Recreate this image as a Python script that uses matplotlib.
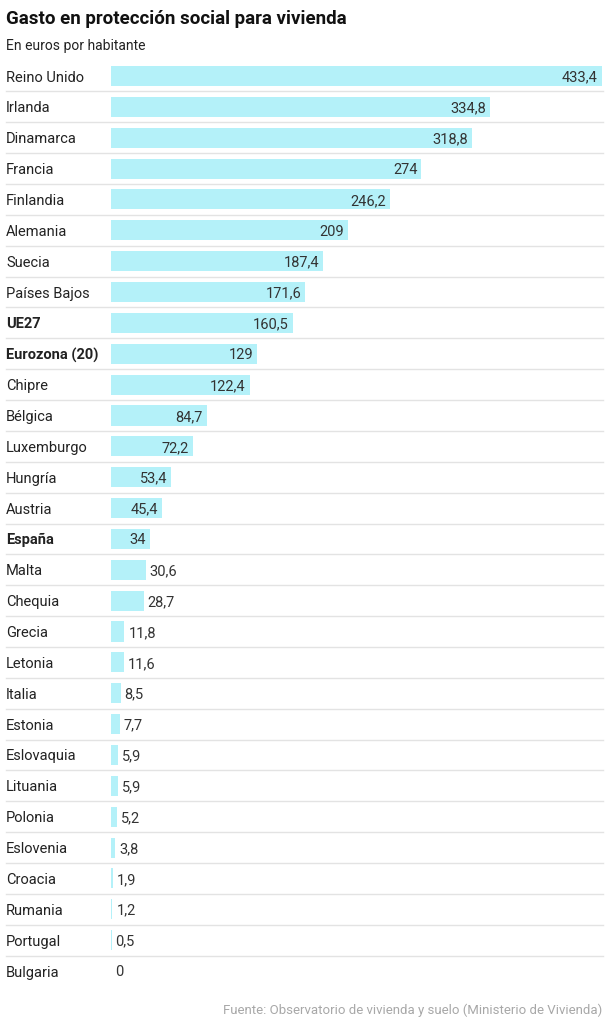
import matplotlib.pyplot as plt
from matplotlib.transforms import blended_transform_factory

# Datos
paises = ["Reino Unido", "Irlanda", "Dinamarca", "Francia", "Finlandia", "Alemania",
          "Suecia", "Países Bajos", "UE27", "Eurozona (20)", "Chipre", "Bélgica",
          "Luxemburgo", "Hungría", "Austria", "España", "Malta", "Chequia", "Grecia",
          "Letonia", "Italia", "Estonia", "Eslovaquia", "Lituania", "Polonia",
          "Eslovenia", "Croacia", "Rumania", "Portugal", "Bulgaria"]
valores = [433.4, 334.8, 318.8, 274, 246.2, 209, 187.4, 171.6, 160.5, 129, 122.4, 84.7,
           72.2, 53.4, 45.4, 34, 30.6, 28.7, 11.8, 11.6, 8.5, 7.7, 5.9, 5.9, 5.2,
           3.8, 1.9, 1.2, 0.5, 0]
destacados = ["UE27", "Eurozona (20)", "España"]

plt.rcParams['font.family'] = ['Roboto', 'DejaVu Sans']

W, H = 608, 1024
fig = plt.figure(figsize=(W / 100, H / 100), dpi=100)

n = len(paises)
paso = (970 - 75) / (n - 1)
top = 76 - paso / 2
bottom = 971 + paso / 2
x0, x1 = 111, 602
ax = fig.add_axes([x0 / W, 1 - bottom / H, (x1 - x0) / W, (bottom - top) / H])
ax.set_xlim(0, max(valores))
ax.set_ylim(n - 0.5, -0.5)
ax.axis('off')

y = list(range(n))
ax.barh(y, valores, height=0.65, color='#b4f1f9', linewidth=0)

px = max(valores) / (x1 - x0)  # unidades por pixel
for i, (p, v) in enumerate(zip(paises, valores)):
    txt = f"{v:g}".replace('.', ',')
    if v >= 34:
        ax.text(v - 4 * px, i, txt, ha='right', va='center_baseline', fontsize=10.5, color='#333333')
    else:
        ax.text(v + 4 * px, i, txt, ha='left', va='center_baseline', fontsize=10.5, color='#333333')
    peso = 'bold' if p in destacados else 'normal'
    ax.text(6 / W, i, p, transform=blended_transform_factory(fig.transFigure, ax.transData),
            ha='left', va='center_baseline', fontsize=10.5, fontweight=peso, color='#222222')

# separadores entre filas
tr = blended_transform_factory(fig.transFigure, ax.transData)
for i in range(n - 1):
    ax.plot([6 / W, 603 / W], [i + 0.5, i + 0.5], transform=tr, color='#e3e3e3',
            linewidth=1, clip_on=False)

fig.text(6 / W, 1 - 19 / H, "Gasto en protección social para vivienda", ha='left',
         va='center', fontsize=13.5, fontweight='bold', color='#111111')
fig.text(6 / W, 1 - 46 / H, "En euros por habitante", ha='left', va='center',
         fontsize=10, color='#222222')
fig.text(602 / W, 1 - 1010 / H, "Fuente: Observatorio de vivienda y suelo (Ministerio de Vivienda)",
         ha='right', va='center', fontsize=9.5, color='#a8a8a8')

fig.savefig('out.png', dpi=100)
